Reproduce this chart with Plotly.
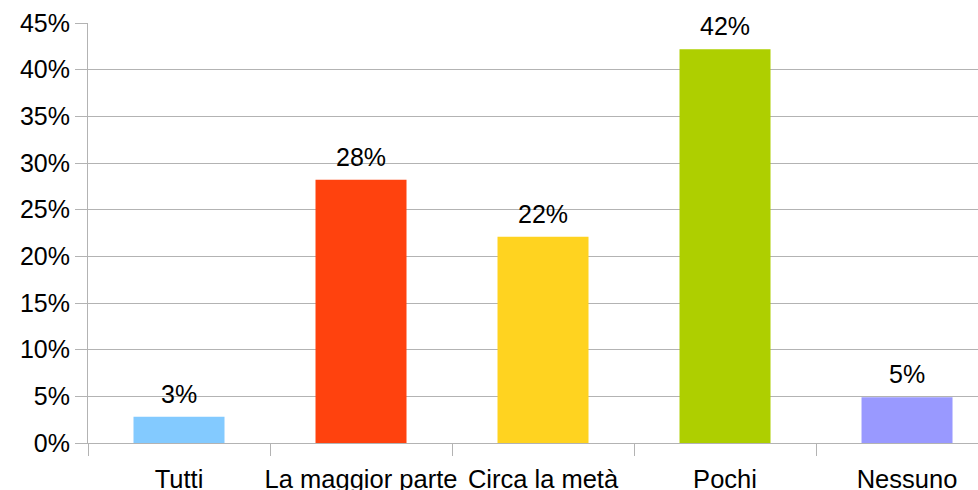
import plotly.graph_objects as go

categories = ["Tutti", "La maggior parte", "Circa la metà", "Pochi", "Nessuno"]
values = [2.8, 28.2, 22.1, 42.2, 4.9]
labels = ["3%", "28%", "22%", "42%", "5%"]
colors = ["#83CAFF", "#FF420E", "#FFD320", "#AECF00", "#9999FF"]
y_ticks = [0, 5, 10, 15, 20, 25, 30, 35, 40, 45]

font = "Liberation Sans, Arial, sans-serif"
grid = "#b3b3b3"

fig = go.Figure(go.Bar(
    x=categories, y=values,
    marker=dict(color=colors, line=dict(width=0)), width=0.5,
))

for c, v, t in zip(categories, values, labels):
    fig.add_annotation(x=c, y=v, text=t, showarrow=False, yanchor="bottom",
                       yshift=7, font=dict(family=font, size=25, color="#000000"))

fig.update_layout(
    width=978, height=490,
    margin=dict(l=88, r=0, t=23, b=47, autoexpand=False),
    paper_bgcolor="white", plot_bgcolor="white",
    showlegend=False,
    font=dict(family=font, size=25, color="#000000"),
    xaxis=dict(
        range=[-0.5, 4.39], tickson="boundaries", ticks="outside", ticklen=12,
        tickcolor=grid, tickwidth=1, showline=True, linecolor=grid, linewidth=1,
        showgrid=False, tickfont=dict(family=font, size=25.5, color="#000000"),
        tickangle=0, automargin=False, ticklabelstandoff=13,
    ),
    yaxis=dict(
        range=[0, 45], tickvals=y_ticks, ticktext=[f"{v}%" for v in y_ticks],
        ticks="outside", ticklen=12, tickcolor=grid, tickwidth=1,
        showline=True, linecolor=grid, linewidth=1,
        showgrid=True, gridcolor=grid, gridwidth=1, zeroline=False,
        tickfont=dict(family=font, size=25, color="#000000"), automargin=False,
    ),
)

fig.write_html(
    "out.html",
    config={"displayModeBar": False},
    post_script="document.body.style.margin='0';document.body.style.overflow='hidden';",
)
